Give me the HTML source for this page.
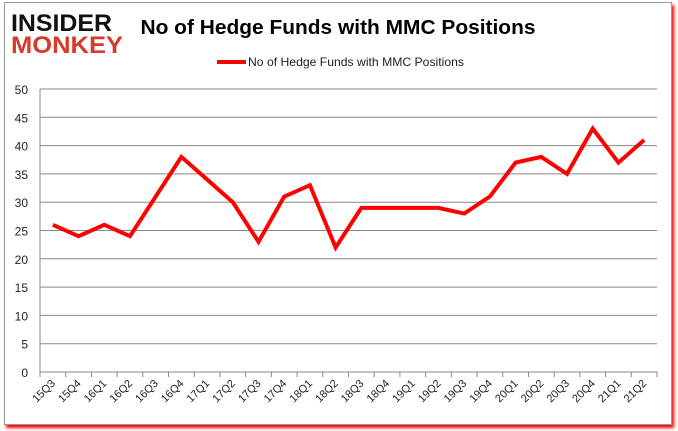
<!DOCTYPE html>
<html><head><meta charset="utf-8"><style>
body{margin:0;width:678px;height:431px;background:#fff;overflow:hidden;font-family:"Liberation Sans",sans-serif}
#frame{position:absolute;left:4px;top:2px;width:666px;height:421px;border:1px solid #999;box-shadow:2px 3px 3px #f00;background:#fff}
</style></head><body>
<div id="frame"></div>
<svg width="678" height="431" style="position:absolute;left:0;top:0" id="chart">
<g font-weight="900" font-family="Liberation Sans,sans-serif">
<text x="11" y="31" font-size="24" fill="#111" textLength="101" lengthAdjust="spacingAndGlyphs">INSIDER</text>
<text x="11" y="53" font-size="24" fill="#d63a2a" textLength="112" lengthAdjust="spacingAndGlyphs">MONKEY</text>
</g>
<text x="338" y="34" text-anchor="middle" font-size="20" font-weight="bold" fill="#000" textLength="395" lengthAdjust="spacingAndGlyphs">No of Hedge Funds with MMC Positions</text>
<g>
<line x1="217" y1="62" x2="246" y2="62" stroke="#f00" stroke-width="4"/>
<text x="248" y="66" font-size="12" fill="#222" textLength="216" lengthAdjust="spacingAndGlyphs">No of Hedge Funds with MMC Positions</text>
</g>
<g id="grid"></g><g id="axes"></g><g id="series"></g>
</svg>
<script>
const categories=["15Q3","15Q4","16Q1","16Q2","16Q3","16Q4","17Q1","17Q2","17Q3","17Q4","18Q1","18Q2","18Q3","18Q4","19Q1","19Q2","19Q3","19Q4","20Q1","20Q2","20Q3","20Q4","21Q1","21Q2"];
const values=[26,24,26,24,31,38,34,30,23,31,33,22,29,29,29,29,28,31,37,38,35,43,37,41];
const yTicks=[0,5,10,15,20,25,30,35,40,45,50];
const L=40,R=657,T=89,B=372,ymax=50;
const bw=(R-L)/categories.length;
const x=i=>L+bw*(i+0.5);
const y=v=>B-(B-T)*v/ymax;
const ns="http://www.w3.org/2000/svg";
function mk(t,a,p){const e=document.createElementNS(ns,t);for(const k in a)e.setAttribute(k,a[k]);p.appendChild(e);return e;}
const grid=document.getElementById('grid'),axes=document.getElementById('axes'),series=document.getElementById('series');
yTicks.forEach(v=>{
 const l=mk('line',{x1:L,x2:R,y1:y(v),y2:y(v),stroke:'#888','stroke-width':1},grid);
 
 
 const t=mk('text',{x:L-12,y:y(v)+5,'text-anchor':'end','font-size':12,fill:'#222'},axes);
 t.textContent=v;
 
 
});
const ax=mk('line',{x1:L,x2:L,y1:T,y2:B,stroke:'#888'},axes);


categories.forEach((c,i)=>{
 const tk=mk('line',{x1:L+bw*i,x2:L+bw*i,y1:B,y2:B+5,stroke:'#888'},axes);
 
 
 const t=mk('text',{x:x(i)+3,y:B+12,'text-anchor':'end','font-size':11,fill:'#222',transform:`rotate(-45 ${x(i)+3} ${B+12})`},axes);
 t.textContent=c;
 
 
});
const tk=mk('line',{x1:R,x2:R,y1:B,y2:B+5,stroke:'#888'},axes);


const p=mk('polyline',{points:values.map((v,i)=>x(i)+','+y(v)).join(' '),fill:'none',stroke:'#f00','stroke-width':4,'stroke-linejoin':'miter'},series);


</script>
</body></html>
